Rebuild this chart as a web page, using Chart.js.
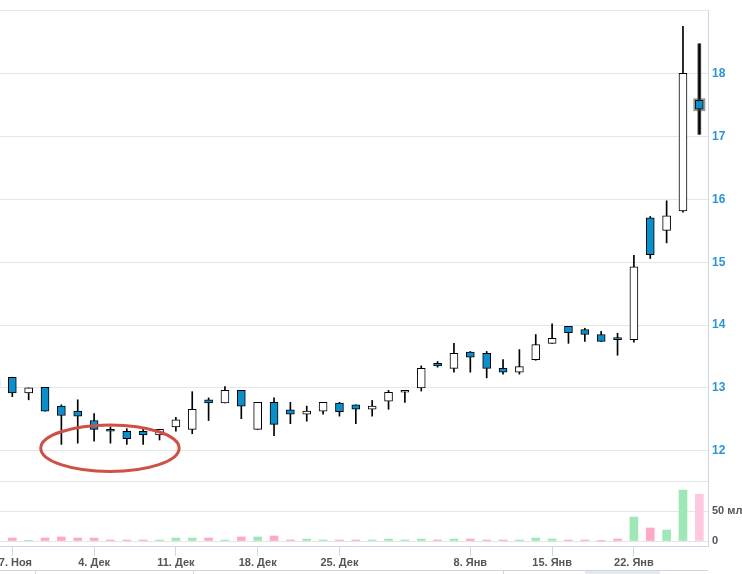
<!DOCTYPE html>
<html>
<head>
<meta charset="utf-8">
<script src="https://cdn.jsdelivr.net/npm/chart.js@4.4.0/dist/chart.umd.min.js"></script>
<style>
  html, body { margin: 0; padding: 0; background: #fff; }
  #wrap { width: 742px; height: 574px; position: relative; }
</style>
</head>
<body>
<div id="wrap"><canvas id="chart"></canvas></div>
<script>
// trading days (24 Nov .. 26 Jan)
const dates = ['24.11','27.11','28.11','29.11','30.11',
  '01.12','04.12','05.12','06.12','07.12','08.12','11.12','12.12','13.12','14.12','15.12',
  '18.12','19.12','20.12','21.12','22.12','25.12','26.12','27.12','28.12','29.12',
  '03.01','04.01','05.01','08.01','09.01','10.01','11.01','12.01','15.01','16.01','17.01',
  '18.01','19.01','22.01','23.01','24.01','25.01','26.01'];

const opens  = [13.12,13.17,12.92,13.01,12.71,12.63,12.48,12.33,12.31,12.31,12.25,12.38,12.34,12.81,12.76,12.96,
  12.34,12.77,12.65,12.58,12.63,12.76,12.73,12.66,12.79,12.93,13.00,13.39,13.31,13.57,13.55,13.31,13.25,13.45,
  13.71,13.98,13.93,13.85,13.80,13.77,15.71,15.51,15.82,17.58];
const highs  = [13.15,13.17,13.00,13.01,12.73,12.81,12.59,12.38,12.35,12.34,12.34,12.53,12.94,12.84,13.02,12.96,
  12.77,12.84,12.77,12.71,12.77,12.77,12.73,12.80,12.96,12.96,13.35,13.42,13.71,13.58,13.58,13.45,13.61,13.85,
  14.02,13.98,13.95,13.90,13.87,15.11,15.73,15.98,18.76,18.48];
const lows   = [12.97,12.86,12.81,12.63,12.10,12.12,12.15,12.12,12.10,12.10,12.17,12.31,12.27,12.48,12.76,12.51,
  12.34,12.24,12.43,12.47,12.58,12.55,12.43,12.55,12.66,12.77,12.95,13.33,13.25,13.25,13.16,13.22,13.22,13.44,
  13.71,13.71,13.74,13.74,13.52,13.73,15.06,15.31,15.80,17.04];
const closes = [13.02,12.92,13.00,12.63,12.56,12.55,12.34,12.31,12.19,12.25,12.34,12.49,12.66,12.76,12.96,12.71,
  12.77,12.42,12.58,12.63,12.77,12.62,12.66,12.71,12.93,12.93,13.31,13.35,13.55,13.49,13.31,13.25,13.34,13.69,
  13.79,13.88,13.85,13.74,13.77,14.93,15.12,15.74,18.01,17.44];
// volume, mln
const volumes = [1.7,5,0.4,5,6.7,5,5,1.7,1.7,1.7,1.7,5,5,5,1.7,6.7,
  6.7,8.3,1.7,3.3,1.7,1.7,1.7,1.7,3.3,1.7,3.3,1.7,3.3,3.3,1.7,1.7,1.7,5,
  3.3,1.7,1.7,0.3,3.3,40,21.7,18.3,85,78];

const weekTicks  = ['27.11','04.12','11.12','18.12','25.12','08.01','15.01','22.01'];
const weekLabels = ['27. Ноя','4. Дек','11. Дек','18. Дек','25. Дек','8. Янв','15. Янв','22. Янв'];
const priceTicks = [12, 13, 14, 15, 16, 17, 18];
const volumeTicks = [0, 50, 100];
const volumeLabels = ['0', '50 млн', ''];

const hoverDate = '26.01';
const hoverIdx = dates.indexOf(hoverDate);

const BLUE = '#0b8fca';
const FONT = "'Liberation Sans', Arial, sans-serif";
const isUp = i => closes[i] >= opens[i];

const bodyData = dates.map((d, i) => ({ x: i, y: [opens[i], closes[i]] }));
const wickData = dates.map((d, i) => ({ x: i, y: [lows[i], highs[i]] }));
const volData = dates.map((d, i) => ({ x: i, y: volumes[i] }));

// red ellipse drawn round the early-December base (data units)
const mark = { x: 6.97, y: 12.04, rx: 4.23, ry: 0.37 };

const noPad = s => { s.paddingLeft = 0; s.paddingRight = 0; s.paddingTop = 0; s.paddingBottom = 0; };

const extras = {
  id: 'extras',
  afterDatasetsDraw(chart) {
    const ctx = chart.ctx;
    const xs = chart.scales.x, ys = chart.scales.y;
    // hover halo round the last candle
    const el = chart.getDatasetMeta(0).data[hoverIdx];
    if (el) {
      const p = el.getProps(['x', 'y', 'base', 'width'], true);
      const top = Math.min(p.y, p.base), bot = Math.max(p.y, p.base);
      ctx.save();
      ctx.strokeStyle = 'rgba(70,70,70,0.55)';
      ctx.lineWidth = 2;
      ctx.strokeRect(p.x - p.width / 2 - 1, top - 1, p.width + 2, bot - top + 2);
      ctx.restore();
    }
    // annotation ellipse
    const cx = xs.getPixelForValue(mark.x), cy = ys.getPixelForValue(mark.y);
    const rx = Math.abs(xs.getPixelForValue(mark.x + mark.rx) - cx);
    const ry = Math.abs(ys.getPixelForValue(mark.y + mark.ry) - cy);
    ctx.save();
    ctx.beginPath();
    ctx.ellipse(cx, cy, rx, ry, 0, 0, Math.PI * 2);
    ctx.strokeStyle = '#cf5045';
    ctx.lineWidth = 3;
    ctx.stroke();
    ctx.restore();
  },
  afterDraw(chart) {
    // navigator strip at the very bottom
    const ctx = chart.ctx, area = chart.chartArea;
    ctx.save();
    ctx.fillStyle = '#e3e8f1';
    ctx.fillRect(585, 570, 75, 4);
    ctx.strokeStyle = '#cfd5df';
    ctx.lineWidth = 1;
    ctx.beginPath();
    ctx.moveTo(0, 570.5); ctx.lineTo(area.right, 570.5);
    [35, 193, 503].forEach(x => { ctx.moveTo(x + 0.5, 570); ctx.lineTo(x + 0.5, 574); });
    ctx.stroke();
    ctx.restore();
  }
};

new Chart(document.getElementById('chart'), {
  type: 'bar',
  data: {
    datasets: [
      {
        label: 'body', data: bodyData, yAxisID: 'y', order: 0,
        grouped: false, barThickness: 8, minBarLength: 2, borderSkipped: false,
        backgroundColor: c => isUp(c.dataIndex) ? '#ffffff' : BLUE,
        borderColor: '#000', borderWidth: 1
      },
      {
        label: 'wick', data: wickData, yAxisID: 'y', order: 1,
        grouped: false, barThickness: 1, borderSkipped: false,
        backgroundColor: '#000', borderWidth: 0
      },
      {
        label: 'hover wick', data: [wickData[hoverIdx]], yAxisID: 'y', order: 2,
        grouped: false, barThickness: 3, borderSkipped: false,
        backgroundColor: '#4a4a4a', borderWidth: 0
      },
      {
        label: 'volume', data: volData, yAxisID: 'v', order: 3,
        grouped: false, barThickness: 8,
        backgroundColor: c => c.dataIndex === hoverIdx ? '#ffc8df' : (isUp(c.dataIndex) ? '#9de8b6' : '#ffa9c6'),
        borderWidth: 0
      }
    ]
  },
  options: {
    responsive: true,
    maintainAspectRatio: false,
    animation: false,
    events: [],
    layout: { autoPadding: false, padding: { top: 10, left: 0, right: 0, bottom: 0 } },
    plugins: { legend: { display: false }, tooltip: { enabled: false } },
    scales: {
      x: {
        type: 'linear',
        offset: false,
        min: 0.248, max: 43.53,
        afterBuildTicks: s => { s.ticks = weekTicks.map(d => ({ value: dates.indexOf(d) })); },
        afterFit: s => { s.height = 28; noPad(s); },
        grid: { offset: false, drawOnChartArea: false, drawTicks: true, tickLength: 10, color: '#ccd6eb' },
        border: { color: '#ccd6eb' },
        ticks: {
          padding: 0, maxRotation: 0, autoSkip: false,
          color: '#555', font: { family: FONT, size: 11, weight: 'bold' },
          callback: v => weekLabels[weekTicks.indexOf(dates[v])] || ''
        }
      },
      y: {
        position: 'right', stack: 'panes', stackWeight: 471,
        min: 11.517, max: 19.019,
        afterBuildTicks: s => { s.ticks = priceTicks.concat([s.max]).map(v => ({ value: v })); },
        afterFit: s => { s.width = 34; noPad(s); },
        grid: { color: '#e6e6e6', drawTicks: false },
        border: { color: '#ccd6eb' },
        ticks: {
          padding: 4, color: '#2b95d6', font: { family: FONT, size: 12, weight: 'bold' },
          callback: v => priceTicks.includes(v) ? String(v) : ''
        }
      },
      v: {
        position: 'right', stack: 'panes', stackWeight: 65,
        min: -8.333, max: 100,
        afterBuildTicks: s => { s.ticks = volumeTicks.map(v => ({ value: v })); },
        afterFit: s => { s.width = 34; noPad(s); },
        grid: { color: '#e6e6e6', drawTicks: false },
        border: { color: '#ccd6eb' },
        ticks: {
          padding: 4, color: '#555', font: { family: FONT, size: 11, weight: 'bold' },
          callback: v => volumeLabels[volumeTicks.indexOf(v)]
        }
      }
    }
  },
  plugins: [extras]
});
</script>
</body>
</html>
